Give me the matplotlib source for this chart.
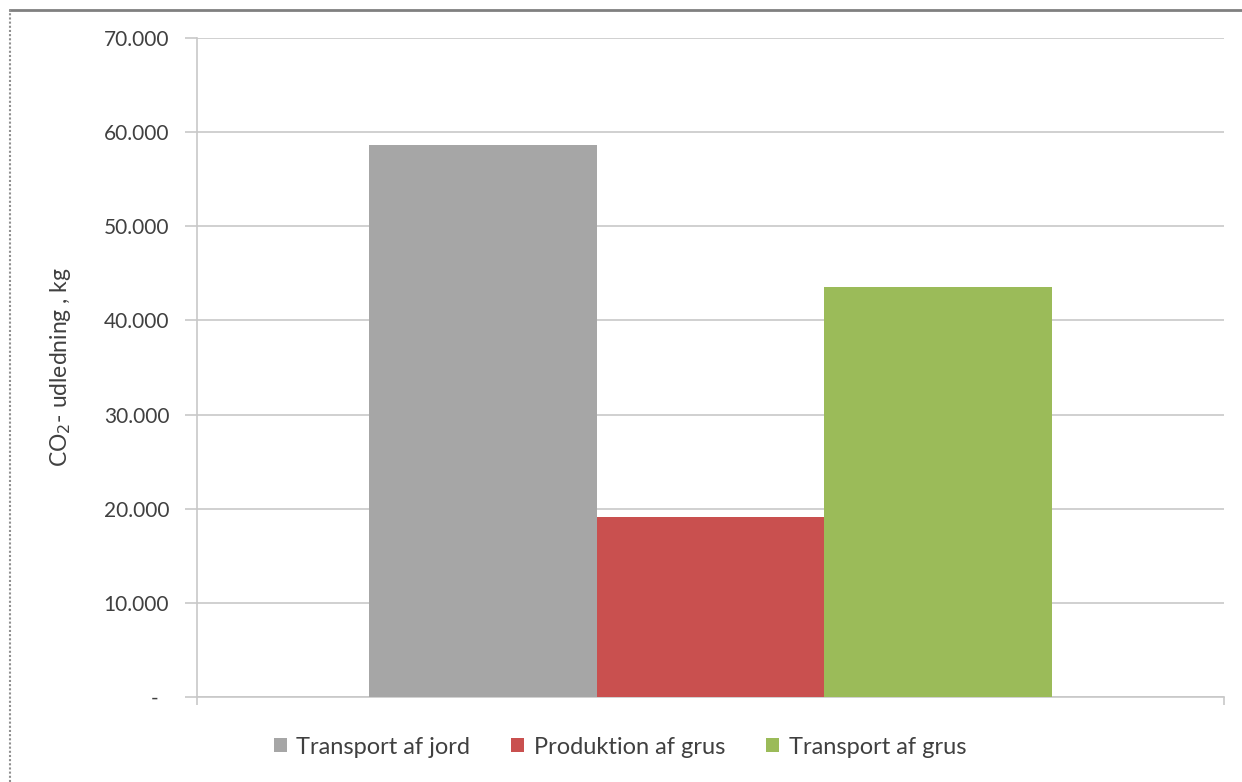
import numpy as np
from matplotlib import pyplot as plt
from matplotlib.ticker import FuncFormatter
from matplotlib.lines import Line2D

series_names = ['Transport af jord', 'Produktion af grus', 'Transport af grus']
series_values = [58600, 19100, 43600]
series_colors = ['#a6a6a6', '#c9504f', '#9bbb59']
yticks = [0, 10000, 20000, 30000, 40000, 50000, 60000, 70000]

plt.rcParams['font.family'] = ['Lato', 'DejaVu Sans']
plt.rcParams['font.size'] = 12

fig = plt.figure(figsize=(12.42, 7.82), dpi=100)
ax = fig.add_axes([197/1242, 1-697/782, (1224-197)/1242, (697-38)/782])

# three series in one category, grouped like excel
w = 0.222
offsets = (np.arange(len(series_values)) - 1) * w
for i in range(len(series_values)):
    ax.bar(0.5 + offsets[i], series_values[i], width=w, color=series_colors[i],
           label=series_names[i], zorder=3)

ax.set_xlim(0, 1)
ax.set_ylim(0, 70000)
ax.set_yticks(yticks)

def fmt(v, pos):
    # excel accounting style: zero shown as a dash
    if v == 0:
        return '-  '
    return '{:,.0f}'.format(v).replace(',', '.')
ax.yaxis.set_major_formatter(FuncFormatter(fmt))

ax.grid(axis='y', color='#c8c8c8', lw=1.2, zorder=0)
ax.set_xticks([0, 1])
ax.set_xticklabels([])
for s in ['top', 'right']:
    ax.spines[s].set_visible(False)
for s in ['left', 'bottom']:
    ax.spines[s].set_color('#c8c8c8')
    ax.spines[s].set_linewidth(1.2)
ax.tick_params(axis='y', length=9, color='#c8c8c8', width=1.2, pad=11,
               labelcolor='#404040', labelsize=15)
ax.tick_params(axis='x', length=6, color='#c8c8c8', width=1.2)

ax.set_ylabel('CO$_2$- udledning , kg', fontsize=16.5, color='#404040', labelpad=22)

leg = fig.legend(loc='center', bbox_to_anchor=(620/1242, 1-747/782), ncol=3,
                 frameon=False, fontsize=17, handlelength=0.55, handleheight=0.55,
                 handletextpad=0.4, columnspacing=1.75)
for t in leg.get_texts():
    t.set_color('#404040')

# outer chart frame
fig.add_artist(Line2D([10/1242, 1], [1-10/782, 1-10/782], color='#808080', lw=2,
                      transform=fig.transFigure))
fig.add_artist(Line2D([10/1242, 10/1242], [0, 1-10/782], color='#909090', lw=1.5,
                      ls=(0, (1, 1)), transform=fig.transFigure))

fig.savefig('out.png', dpi=100)
